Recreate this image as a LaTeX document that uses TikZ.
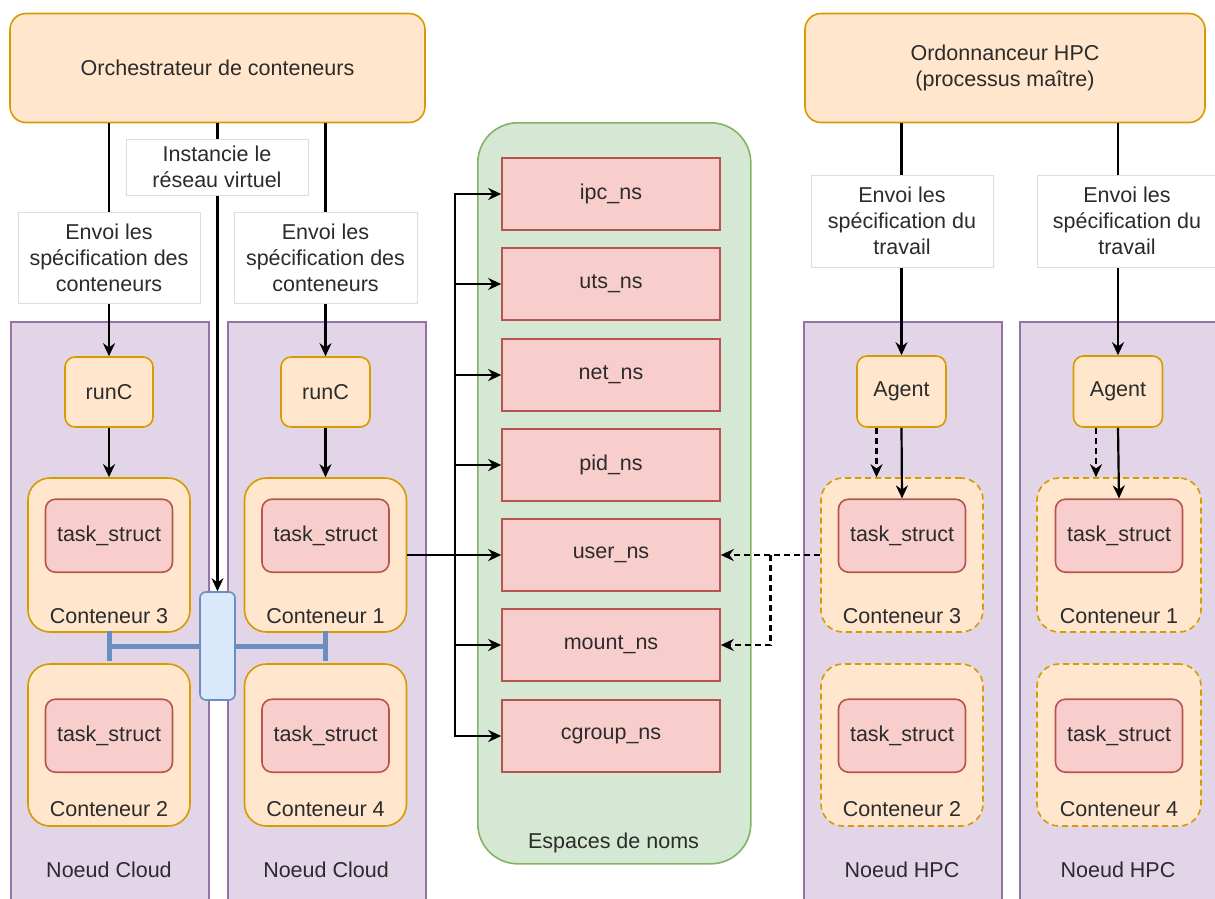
\documentclass[tikz,border=0pt]{standalone}
\usepackage{fontspec}
\setmainfont{Liberation Sans}
\usetikzlibrary{arrows.meta,calc}

\definecolor{orfill}{HTML}{FFE6CC}\definecolor{ordraw}{HTML}{D79B00}
\definecolor{rdfill}{HTML}{F8CECC}\definecolor{rddraw}{HTML}{B85450}
\definecolor{pufill}{HTML}{E1D5E7}\definecolor{pudraw}{HTML}{9673A6}
\definecolor{grfill}{HTML}{D5E8D4}\definecolor{grdraw}{HTML}{82B366}
\definecolor{blfill}{HTML}{DAE8FC}\definecolor{bldraw}{HTML}{6C8EBF}
\definecolor{lbdraw}{HTML}{DDDDDD}
\definecolor{ink}{HTML}{2B2B2B}

\tikzset{
  every node/.style={font=\fontsize{21.5}{26}\selectfont, text=ink, inner sep=0pt},
  wh/.style 2 args={minimum width=#1, minimum height=#2},
  orchbox/.style={draw=ordraw, fill=orfill, line width=1.6pt, rounded corners=16pt},
  procbox/.style={draw=ordraw, fill=orfill, line width=1.6pt, rounded corners=10pt},
  ctbox/.style={draw=ordraw, fill=orfill, line width=1.6pt, rounded corners=22pt},
  ctdash/.style={ctbox, dash pattern=on 6pt off 4pt},
  taskbox/.style={draw=rddraw, fill=rdfill, line width=1.6pt, rounded corners=10pt},
  nsbox/.style={draw=rddraw, fill=rdfill, line width=1.6pt},
  hostbox/.style={draw=pudraw, fill=pufill, line width=1.6pt},
  nsarea/.style={draw=grdraw, fill=grfill, line width=1.6pt, rounded corners=40pt},
  switchbox/.style={draw=bldraw, fill=blfill, line width=1.6pt, rounded corners=6pt},
  tag/.style={draw=lbdraw, fill=white, line width=1pt, align=center},
  wire/.style={draw=black, line width=2.2pt},
  arr/.style={wire, -{Stealth[length=13pt, width=12pt]}},
  darr/.style={arr, dash pattern=on 6pt off 4pt},
  lan/.style={draw=bldraw, line width=5pt},
}

\begin{document}
\begin{tikzpicture}[x=1pt, y=-1pt]
\useasboundingbox (0,0) rectangle (1215,898);

% compute nodes
\node[hostbox, wh={198}{600}, anchor=north west] (cloudA) at (10,321) {};
\node[hostbox, wh={198}{600}, anchor=north west] (cloudB) at (227,321) {};
\node[hostbox, wh={198}{600}, anchor=north west] (hpcA) at (803,321) {};
\node[hostbox, wh={198}{600}, anchor=north west] (hpcB) at (1019,321) {};
\node (cloudAtxt) at (109,870) {Noeud Cloud};
\node (cloudBtxt) at (326,870) {Noeud Cloud};
\node (hpcAtxt) at (902,870) {Noeud HPC};
\node (hpcBtxt) at (1118,870) {Noeud HPC};

% namespace area
\node[nsarea, wh={273}{741}, anchor=north west] (spaces) at (477,122) {};
\node (spacestxt) at (613.5,843) {Espaces de noms};
\foreach \n/\y in {ipc/194, uts/284, net/375, pid/465, user/555, mount/645, cgroup/736}
  \node[nsbox, wh={218}{72}] (\n) at (611,\y) {\n\_ns};

% schedulers
\node[orchbox, wh={415}{109}] (orch) at (217.5,68) {Orchestrateur de conteneurs};
\node[orchbox, wh={400}{109}, align=center] (sched) at (1005,68) {Ordonnanceur HPC\\(processus maître)};

% runtimes and agents
\node[procbox, wh={88}{70}] (runA) at (109,392) {runC};
\node[procbox, wh={89}{70}] (runB) at (325.5,392) {runC};
\node[procbox, wh={89}{71}] (agentA) at (901.5,391.5) {Agent};
\node[procbox, wh={89}{71}] (agentB) at (1118,391.5) {Agent};

% containers
\node[ctbox, wh={162}{154}] (c3) at (109,555) {};
\node[ctbox, wh={162}{162}] (c2) at (109,745) {};
\node[ctbox, wh={162}{154}] (c1) at (325.5,555) {};
\node[ctbox, wh={162}{162}] (c4) at (325.5,745) {};
\node[ctdash, wh={162}{154}] (h3) at (902,555) {};
\node[ctdash, wh={162}{162}] (h2) at (902,745) {};
\node[ctdash, wh={164}{154}] (h1) at (1119,555) {};
\node[ctdash, wh={164}{162}] (h4) at (1119,745) {};
\foreach \c/\t in {c3/Conteneur 3, c1/Conteneur 1, h3/Conteneur 3, h1/Conteneur 1} {
  \node[taskbox, wh={127}{73}] (ts\c) at ($(\c.north)+(0,58.5)$) {task\_struct};
  \node (lbl\c) at ($(\c.south)+(0,-17)$) {\t};
}
\foreach \c/\t in {c2/Conteneur 2, c4/Conteneur 4, h2/Conteneur 2, h4/Conteneur 4} {
  \node[taskbox, wh={127}{73}] (ts\c) at ($(\c.north)+(0,72.5)$) {task\_struct};
  \node (lbl\c) at ($(\c.south)+(0,-18)$) {\t};
}

% virtual network switch
\node[switchbox, wh={35}{108}] (sw) at (217.5,646) {};
\coordinate (lanA) at (c3.south |- sw.center);
\coordinate (lanB) at (c1.south |- sw.center);
\draw[lan] (lanA) -- (sw.west);
\draw[lan] (sw.east) -- (lanB);
\draw[lan] ([yshift=15pt]lanA) -- ([yshift=-15pt]lanA);
\draw[lan] ([yshift=15pt]lanB) -- ([yshift=-15pt]lanB);

% orchestration flows
\draw[arr] (orch.south -| runA) -- (runA.north);
\draw[arr] (orch.south -| sw) -- (sw.north);
\draw[arr] (orch.south -| runB) -- (runB.north);
\draw[arr] (runA.south) -- (c3.north);
\draw[arr] (runB.south) -- (c1.north);

\draw[arr] (sched.south -| agentA) -- (agentA.north);
\draw[arr] (sched.south -| agentB) -- (agentB.north);
\draw[arr] (agentA.south) -- (tsh3.north);
\draw[arr] (agentB.south) -- (tsh1.north);
\draw[darr] ([xshift=-25pt]agentA.south) -- ([xshift=-25pt]agentA.south |- h3.north);
\draw[darr] ([xshift=-22pt]agentB.south) -- ([xshift=-22pt]agentB.south |- h1.north);

% edge labels
\node[tag, wh={182}{56}] (lblnet) at (217,167) {Instancie le\\réseau virtuel};
\node[tag, wh={182}{91}] (lblA) at (109,257.5) {Envoi les\\spécification des\\conteneurs};
\node[tag, wh={183}{91}] (lblB) at (325.5,257.5) {Envoi les\\spécification des\\conteneurs};
\node[tag, wh={182}{92}] (lblH1) at (902,221) {Envoi les\\spécification du\\travail};
\node[tag, wh={180}{92}] (lblH2) at (1127,221) {Envoi les\\spécification du\\travail};

% container 1 namespace bus
\coordinate (bus) at ([xshift=48pt]c1.east);
\draw[wire] (c1.east) -- (bus);
\foreach \n in {ipc, uts, net, pid, user, mount, cgroup}
  \draw[arr] (bus) |- (\n.west);

% HPC container namespaces
\coordinate (fork) at ($(user.east)!0.5!(h3.west)$);
\draw[darr] (h3.west) -- (user.east);
\draw[darr] (fork) |- (mount.east);
\end{tikzpicture}
\end{document}
